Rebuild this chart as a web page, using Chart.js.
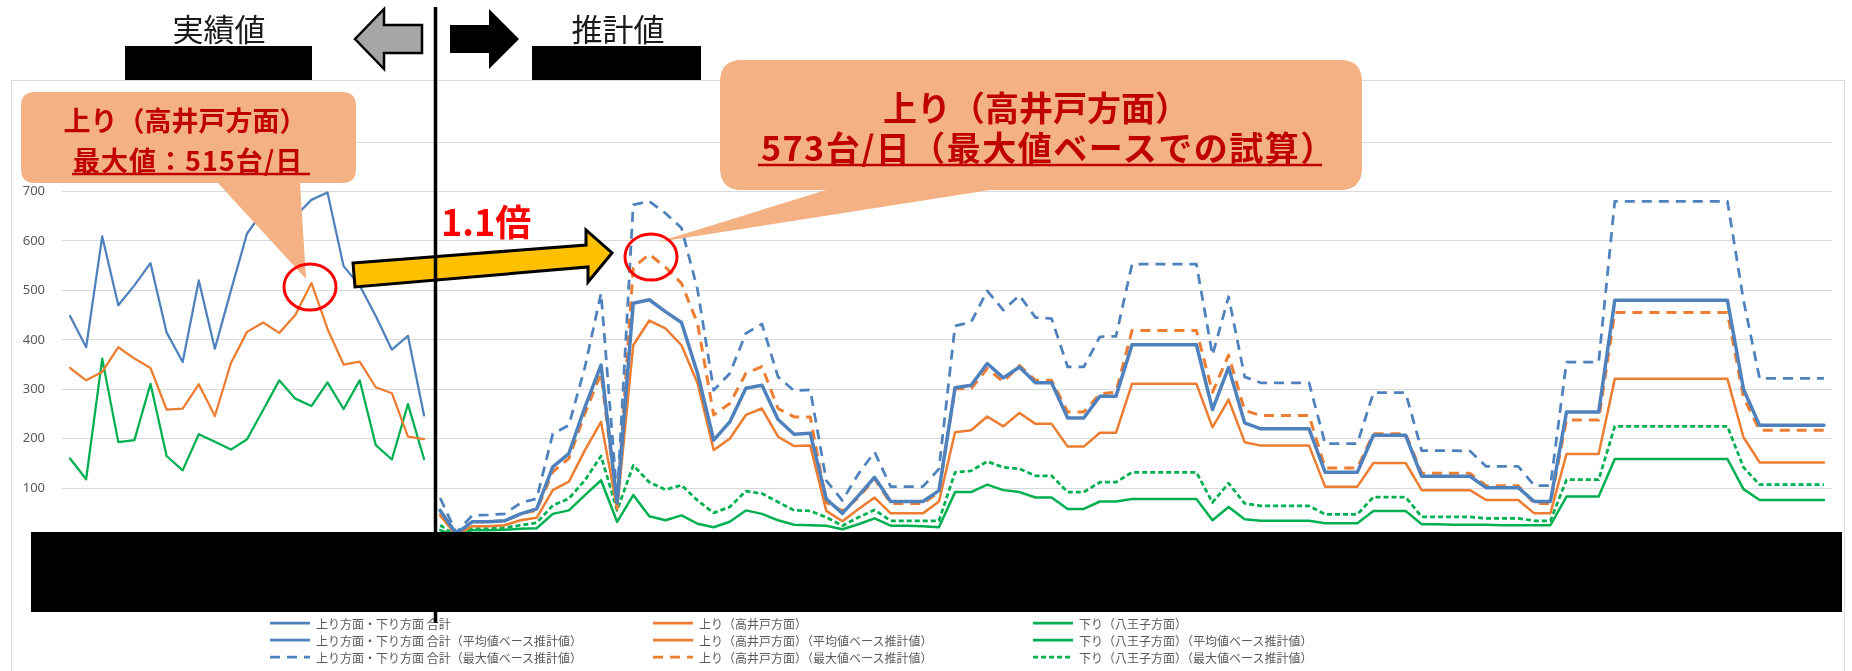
<!DOCTYPE html>
<html lang="ja">
<head>
<meta charset="utf-8">
<title>交通量 実績値・推計値</title>
<script src="https://cdn.jsdelivr.net/npm/chart.js@4.4.1/dist/chart.umd.min.js"></script>
<style>
  html, body { margin: 0; padding: 0; background: #fff; }
  #wrap { position: relative; width: 1852px; height: 671px; overflow: hidden; font-family: "Noto Sans CJK JP", sans-serif; }
  #frame { position: absolute; left: 11px; top: 80px; width: 1834px; height: 620px; border: 1px solid #d9d9d9; box-sizing: border-box; }
  #chartCanvas { position: absolute; left: 0; top: 0; }
  #overlay { position: absolute; left: 0; top: 0; pointer-events: none; }
  .lg-item { position: absolute; height: 16px; display: flex; align-items: center; font-size: 12px; color: #595959; white-space: nowrap; }
  .lg-item svg { margin-right: 6px; }
</style>
</head>
<body>
<div id="wrap">
  <div id="frame"></div>
  <canvas id="chartCanvas" width="1852" height="671"></canvas>
  <div id="legend"></div>
  <svg id="overlay" width="1852" height="671" xmlns="http://www.w3.org/2000/svg">
    <!-- header: actual / estimate -->
    <text x="219" y="41" text-anchor="middle" font-size="31" fill="#1a1a1a">実績値</text>
    <text x="618" y="41" text-anchor="middle" font-size="31" fill="#1a1a1a">推計値</text>
    <rect x="125" y="46" width="187" height="34" fill="#000"/>
    <rect x="532" y="46" width="169" height="34" fill="#000"/>
    <polygon points="355,39 384,9 384,25 422,25 422,53 384,53 384,69" fill="#a6a6a6" stroke="#000" stroke-width="2.5"/>
    <polygon points="450,25 489,25 489,9 519,39 489,69 489,53 450,53" fill="#000"/>

    <!-- redacted x axis -->
    <rect x="31" y="532" width="1811" height="80" fill="#000"/>

    <!-- left callout -->
    <path d="M35,92 H342 Q356,92 356,106 V169 Q356,183 342,183 H300 L306,279 L218,183 H35 Q21,183 21,169 V106 Q21,92 35,92 Z" fill="#f4b183"/>
    <text x="185" y="131" text-anchor="middle" font-size="27" font-weight="700" fill="#c00000">上り（高井戸方面）</text>
    <text x="73" y="171" font-size="27" font-weight="700" fill="#c00000" letter-spacing="1">最大値：515台/日</text>
    <line x1="72" y1="174" x2="310" y2="174" stroke="#c00000" stroke-width="2.5"/>
    <ellipse cx="310" cy="287" rx="26" ry="23" fill="none" stroke="#ff0000" stroke-width="3"/>

    <!-- right callout -->
    <path d="M742,60 H1340 Q1362,60 1362,82 V168 Q1362,190 1340,190 H990 L658,242 L826,190 H742 Q720,190 720,168 V82 Q720,60 742,60 Z" fill="#f4b183"/>
    <text x="1036" y="121" text-anchor="middle" font-size="34" font-weight="700" fill="#c00000">上り（高井戸方面）</text>
    <text x="761" y="161" font-size="34" font-weight="700" fill="#c00000" letter-spacing="1.5">573台/日（最大値ベースでの試算）</text>
    <line x1="758" y1="165" x2="1322" y2="165" stroke="#c00000" stroke-width="2.5"/>
    <ellipse cx="651" cy="257" rx="26" ry="23" fill="none" stroke="#ff0000" stroke-width="3"/>

    <!-- 1.1x arrow -->
    <polygon points="353,263 586,245 586,230 612,253 588,282 588,267 355,287" fill="#ffc000" stroke="#000" stroke-width="3"/>
    <text x="441" y="236" font-size="36" font-weight="700" fill="#ff0000">1.1倍</text>

    <!-- divider -->
    <line x1="435.5" y1="7" x2="435.5" y2="623" stroke="#000" stroke-width="3.5"/>
  </svg>
</div>
<script>
// x labels are blacked out in the source, so categories are just day numbers
const DAYS = Array.from({ length: 110 }, (_, i) => String(i + 1));

// 実績値 (first 23 days)
const ACTUAL_TOTAL = [448, 385, 609, 470, 510, 555, 415, 355, 520, 382, 500, 615, 660, 640, 650, 683, 698, 549, 510, 448, 380, 408, 247];
const ACTUAL_UP    = [343, 318, 335, 385, 362, 343, 259, 261, 310, 246, 353, 416, 435, 414, 450, 515, 422, 350, 356, 304, 292, 204, 199];
const ACTUAL_DOWN  = [160, 118, 362, 193, 197, 311, 165, 136, 209, 194, 178, 199, 258, 318, 281, 266, 314, 260, 318, 187, 158, 270, 159];

// 推計値 (days 24-110)
const EST_AVG_TOTAL = [
  55, 8, 32, 32, 34, 48, 58, 143, 170, 264,
  349, 70, 474, 481, 457, 435, 332, 197, 234, 302,
  308, 239, 209, 211, 78, 49, 85, 122, 73, 73,
  73, 95, 303, 308, 352, 323, 345, 313, 313, 242,
  242, 286, 286, 390, 390, 390, 390, 390, 259, 344,
  232, 220, 220, 220, 220, 132, 132, 132, 207, 207,
  207, 124, 124, 124, 124, 101, 101, 101, 73, 73,
  254, 254, 254, 480, 480, 480, 480, 480, 480, 480,
  480, 300, 227, 227, 227, 227, 227
];
const EST_MAX_TOTAL = [
  80, 10, 45, 46, 48, 70, 79, 210, 227, 345,
  494, 80, 673, 680, 656, 626, 501, 298, 332, 413,
  432, 325, 297, 299, 115, 75, 129, 173, 103, 103,
  103, 139, 428, 436, 499, 460, 490, 445, 443, 345,
  345, 406, 407, 553, 553, 553, 553, 553, 369, 487,
  325, 313, 313, 313, 313, 190, 190, 190, 293, 293,
  293, 176, 176, 176, 175, 144, 144, 144, 105, 105,
  355, 355, 355, 680, 680, 680, 680, 680, 680, 680,
  680, 480, 322, 322, 322, 322, 322
];
const EST_AVG_UP = [
  45, 5, 23, 23, 25, 35, 40, 96, 113, 177,
  234, 58, 389, 439, 423, 389, 312, 177, 200, 248,
  261, 204, 185, 186, 54, 33, 58, 81, 49, 49,
  49, 73, 213, 217, 245, 225, 252, 230, 230, 184,
  184, 212, 212, 311, 311, 311, 311, 311, 223, 279,
  193, 186, 186, 186, 186, 103, 103, 103, 151, 151,
  151, 96, 96, 96, 96, 76, 76, 76, 49, 49,
  169, 169, 169, 321, 321, 321, 321, 321, 321, 321,
  321, 203, 152, 152, 152, 152, 152
];
const EST_MAX_UP = [
  50, 6, 32, 32, 34, 48, 55, 133, 160, 251,
  332, 65, 546, 573, 547, 514, 433, 248, 271, 332,
  346, 261, 244, 244, 71, 54, 81, 119, 69, 69,
  69, 92, 301, 301, 342, 315, 348, 318, 318, 254,
  254, 291, 294, 419, 419, 419, 419, 419, 294, 369,
  257, 247, 247, 247, 247, 141, 141, 141, 210, 210,
  210, 130, 130, 130, 130, 105, 105, 105, 69, 69,
  238, 238, 238, 455, 455, 455, 455, 455, 455, 455,
  455, 284, 217, 217, 217, 217, 217
];
const EST_AVG_DOWN = [
  15, 3, 15, 15, 16, 18, 19, 48, 55, 86,
  116, 32, 86, 43, 35, 45, 28, 21, 32, 55,
  48, 35, 26, 25, 24, 17, 27, 39, 24, 24,
  23, 21, 92, 92, 107, 96, 92, 81, 81, 58,
  58, 73, 73, 78, 78, 78, 78, 78, 35, 62,
  37, 34, 34, 34, 34, 29, 29, 29, 54, 54,
  54, 27, 27, 26, 26, 26, 25, 25, 25, 25,
  83, 83, 83, 159, 159, 159, 159, 159, 159, 159,
  159, 98, 76, 76, 76, 76, 76
];
const EST_MAX_DOWN = [
  25, 4, 18, 18, 20, 25, 30, 65, 79, 116,
  165, 55, 146, 112, 97, 106, 75, 50, 62, 94,
  89, 72, 55, 54, 41, 24, 41, 56, 34, 34,
  34, 34, 132, 135, 154, 142, 139, 125, 125, 92,
  92, 112, 112, 132, 132, 132, 132, 132, 71, 110,
  69, 64, 64, 64, 64, 47, 47, 47, 82, 82,
  82, 42, 42, 42, 42, 39, 39, 39, 34, 34,
  117, 117, 117, 225, 225, 225, 225, 225, 225, 225,
  225, 142, 107, 107, 107, 107, 107
];

const Y_MIN = 0;
const Y_MAX = 800;
const Y_STEP = 100;

const BLUE = '#4f81bd';
const ORANGE = '#ed7d31';
const GREEN = '#00b050';

const nActual = ACTUAL_TOTAL.length;

function actualSeries(values) {
  return values.concat(Array(DAYS.length - values.length).fill(null));
}
function estimateSeries(values) {
  return Array(nActual).fill(null).concat(values);
}

function makeDataset(label, data, color, width, dash) {
  return {
    label: label,
    data: data,
    borderColor: color,
    backgroundColor: color,
    borderWidth: width,
    borderDash: dash || [],
    borderJoinStyle: 'round',
    borderCapStyle: dash ? 'butt' : 'round',
    pointRadius: 0,
    pointHoverRadius: 0,
    tension: 0,
    fill: false
  };
}

const datasets = [
  makeDataset('上り方面・下り方面 合計', actualSeries(ACTUAL_TOTAL), BLUE, 2.25),
  makeDataset('上り方面・下り方面 合計（平均値ベース推計値）', estimateSeries(EST_AVG_TOTAL), BLUE, 3.5),
  makeDataset('上り方面・下り方面 合計（最大値ベース推計値）', estimateSeries(EST_MAX_TOTAL), BLUE, 2.75, [10, 7]),
  makeDataset('上り（高井戸方面）', actualSeries(ACTUAL_UP), ORANGE, 2.25),
  makeDataset('上り（高井戸方面）（平均値ベース推計値）', estimateSeries(EST_AVG_UP), ORANGE, 2.5),
  makeDataset('上り（高井戸方面）（最大値ベース推計値）', estimateSeries(EST_MAX_UP), ORANGE, 3, [10, 7]),
  makeDataset('下り（八王子方面）', actualSeries(ACTUAL_DOWN), GREEN, 2.25),
  makeDataset('下り（八王子方面）（平均値ベース推計値）', estimateSeries(EST_AVG_DOWN), GREEN, 2.5),
  makeDataset('下り（八王子方面）（最大値ベース推計値）', estimateSeries(EST_MAX_DOWN), GREEN, 2.75, [5, 3])
];

const chart = new Chart(document.getElementById('chartCanvas'), {
  type: 'line',
  data: { labels: DAYS, datasets: datasets },
  options: {
    responsive: false,
    animation: false,
    events: [],
    layout: { padding: { top: 142, right: 20, bottom: 133.4, left: 0 } },
    plugins: {
      legend: { display: false },
      tooltip: { enabled: false }
    },
    scales: {
      x: {
        display: false,
        offset: true
      },
      y: {
        min: Y_MIN,
        max: Y_MAX,
        afterFit: function(scale) { scale.width = 62; },
        border: { display: false },
        grid: { color: '#d9d9d9', lineWidth: 1, drawTicks: false },
        ticks: {
          stepSize: Y_STEP,
          padding: 17,
          color: '#595959',
          font: { family: 'Noto Sans', size: 13 }
        }
      }
    }
  }
});

// legend: one column per direction, rows = actual / average / max
const LEGEND_COLS = [270, 653, 1033];
const LEGEND_ROWS = [623, 640, 657];
const legendBox = document.getElementById('legend');
chart.data.datasets.forEach((ds, i) => {
  const col = Math.floor(i / 3);
  const row = i % 3;
  const item = document.createElement('div');
  item.className = 'lg-item';
  item.style.left = LEGEND_COLS[col] + 'px';
  item.style.top = (LEGEND_ROWS[row] - 8) + 'px';
  const dash = ds.borderDash.length ? ds.borderDash.join(',') : 'none';
  item.innerHTML =
    `<svg width="40" height="6"><line x1="0" y1="3" x2="40" y2="3" stroke="${ds.borderColor}" stroke-width="2.75" stroke-dasharray="${dash}"/></svg>` +
    `<span>${ds.label}</span>`;
  legendBox.appendChild(item);
});
</script>
</body>
</html>
